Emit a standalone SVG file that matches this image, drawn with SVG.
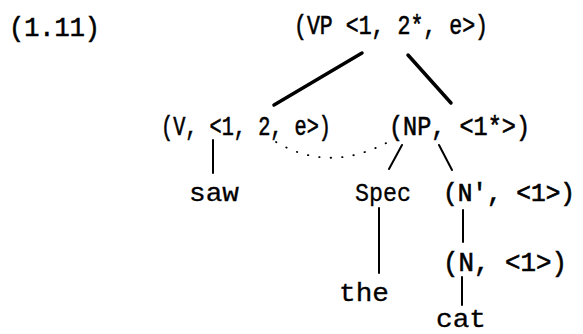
<svg xmlns="http://www.w3.org/2000/svg" width="583" height="334" viewBox="0 0 583 334">
<style>
text{font-family:"Liberation Mono","DejaVu Sans Mono",monospace;font-size:27px;fill:#000}
.lab{stroke:#000;stroke-width:0.6}
.sm{font-size:23px}
.w{font-size:26px;stroke:#000;stroke-width:0.3}
.e{stroke:#000;stroke-linecap:round;fill:none}
.thick{stroke-width:3.5}
.thin{stroke-width:2}
.dot{stroke-width:1.8;stroke-dasharray:0.5 11}
</style>
<rect width="583" height="334" fill="#fff"/>
<g id="label"><text class="lab" x="9" y="36" textLength="91" lengthAdjust="spacingAndGlyphs">(1.11)</text></g>
<g id="connectors">
<line class="e thick" x1="362" y1="53" x2="274" y2="105"/>
<line class="e thick" x1="408" y1="55" x2="451" y2="103"/>
<line class="e thin" x1="213" y1="140" x2="213" y2="173"/>
<line class="e thin" x1="402" y1="145" x2="389" y2="169"/>
<line class="e thin" x1="439" y1="145" x2="452" y2="170"/>
<line class="e thin" x1="379" y1="208" x2="379" y2="273"/>
<line class="e thin" x1="463" y1="210" x2="463" y2="242"/>
<line class="e thin" x1="462" y1="277" x2="462" y2="305"/>
<path class="e dot" d="M276,142 Q330,174 390,141"/>
</g>
<g id="n-vp"><text class="lab" x="294" y="34" textLength="194" lengthAdjust="spacingAndGlyphs">(VP &lt;1, 2*, e&gt;)</text></g>
<g id="n-v"><text class="lab" x="161" y="135" textLength="170" lengthAdjust="spacingAndGlyphs">(V, &lt;1, 2, e&gt;)</text></g>
<g id="n-np"><text class="lab" x="389" y="135" textLength="141" lengthAdjust="spacingAndGlyphs">(NP, &lt;1*&gt;)</text></g>
<g id="n-saw"><text class="w" x="189" y="201" textLength="50" lengthAdjust="spacingAndGlyphs">saw</text></g>
<g id="n-spec"><text class="w" x="355" y="201" textLength="56" lengthAdjust="spacingAndGlyphs">Spec</text></g>
<g id="n-nbar"><text class="lab sm" x="443" y="201" textLength="132" lengthAdjust="spacingAndGlyphs" transform="translate(443 201) scale(1 1.15) translate(-443 -201)">(N',  &lt;1&gt;)</text></g>
<g id="n-n"><text class="lab" x="443" y="271" textLength="124" lengthAdjust="spacingAndGlyphs">(N,  &lt;1&gt;)</text></g>
<g id="n-the"><text class="w" x="339" y="301" textLength="50" lengthAdjust="spacingAndGlyphs">the</text></g>
<g id="n-cat"><text class="w" x="436" y="327" textLength="50" lengthAdjust="spacingAndGlyphs">cat</text></g>
</svg>
